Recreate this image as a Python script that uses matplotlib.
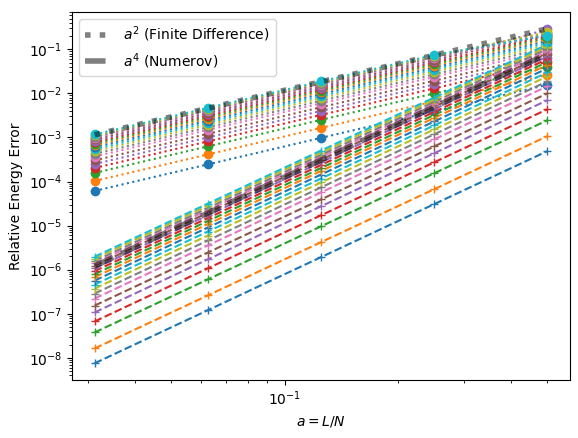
import matplotlib
matplotlib.use("Agg")
import matplotlib.pyplot as plt

# lattice spacing a = L/N
a = [1 / 32, 1 / 16, 1 / 8, 1 / 4, 1 / 2]

# relative energy error, finite difference (one list per level)
fd_err = [
    [6.12e-5, 2.45e-4, 9.8e-4, 3.92e-3, 1.57e-2],
    [1.03e-4, 4.12e-4, 1.65e-3, 6.6e-3, 2.64e-2],
    [1.57e-4, 6.28e-4, 2.51e-3, 1.0e-2, 4.02e-2],
    [2.03e-4, 8.12e-4, 3.25e-3, 1.3e-2, 5.2e-2],
    [2.50e-4, 1.0e-3, 4.0e-3, 1.6e-2, 6.4e-2],
    [3.03e-4, 1.21e-3, 4.85e-3, 1.94e-2, 7.76e-2],
    [3.69e-4, 1.48e-3, 5.9e-3, 2.36e-2, 9.45e-2],
    [4.24e-4, 1.7e-3, 6.78e-3, 2.71e-2, 0.109],
    [4.86e-4, 1.94e-3, 7.78e-3, 3.11e-2, 0.124],
    [5.43e-4, 2.17e-3, 8.69e-3, 3.48e-2, 0.139],
    [6.06e-4, 2.42e-3, 9.7e-3, 3.88e-2, 0.155],
    [6.70e-4, 2.68e-3, 1.07e-2, 4.29e-2, 0.172],
    [7.24e-4, 2.9e-3, 1.16e-2, 4.63e-2, 0.185],
    [7.87e-4, 3.15e-3, 1.26e-2, 5.04e-2, 0.201],
    [8.51e-4, 3.4e-3, 1.36e-2, 5.45e-2, 0.285],
    [9.16e-4, 3.66e-3, 1.47e-2, 5.86e-2, 0.215],
    [9.80e-4, 3.92e-3, 1.57e-2, 6.27e-2, 0.225],
    [1.04e-3, 4.16e-3, 1.66e-2, 6.66e-2, 0.232],
    [1.11e-3, 4.44e-3, 1.78e-2, 7.1e-2, 0.245],
    [1.17e-3, 4.68e-3, 1.87e-2, 7.49e-2, 0.205],
]

# relative energy error, Numerov
numerov_err = [
    [7.5e-9, 1.2e-7, 1.92e-6, 3.07e-5, 4.9e-4],
    [1.63e-8, 2.6e-7, 4.2e-6, 6.7e-5, 1.07e-3],
    [3.76e-8, 6.0e-7, 9.6e-6, 1.54e-4, 2.46e-3],
    [6.67e-8, 1.07e-6, 1.71e-5, 2.73e-4, 4.37e-3],
    [1.07e-7, 1.71e-6, 2.74e-5, 4.38e-4, 7.0e-3],
    [1.53e-7, 2.45e-6, 3.92e-5, 6.27e-4, 1.0e-2],
    [2.21e-7, 3.54e-6, 5.66e-5, 9.05e-4, 1.45e-2],
    [2.87e-7, 4.59e-6, 7.35e-5, 1.18e-3, 1.88e-2],
    [3.72e-7, 5.95e-6, 9.52e-5, 1.52e-3, 2.44e-2],
    [4.58e-7, 7.33e-6, 1.17e-4, 1.88e-3, 3.0e-2],
    [5.64e-7, 9.02e-6, 1.44e-4, 2.31e-3, 3.7e-2],
    [6.76e-7, 1.08e-5, 1.73e-4, 2.77e-3, 4.43e-2],
    [7.91e-7, 1.27e-5, 2.02e-4, 3.24e-3, 5.18e-2],
    [9.25e-7, 1.48e-5, 2.37e-4, 3.79e-3, 6.06e-2],
    [1.07e-6, 1.71e-5, 2.74e-4, 4.38e-3, 7.0e-2],
    [1.22e-6, 1.95e-5, 3.12e-4, 5.0e-3, 8.0e-2],
    [1.40e-6, 2.24e-5, 3.58e-4, 5.73e-3, 9.17e-2],
    [1.57e-6, 2.51e-5, 4.02e-4, 6.43e-3, 0.103],
    [1.77e-6, 2.83e-5, 4.53e-4, 7.25e-3, 0.116],
    [1.97e-6, 3.15e-5, 5.04e-4, 8.07e-3, 0.129],
]

# guide lines
guide_a2 = [1.15e-3, 4.6e-3, 1.84e-2, 7.36e-2, 0.294]
guide_a4 = [1.2e-6, 1.92e-5, 3.07e-4, 4.92e-3, 7.86e-2]

fig = plt.figure(figsize=(5.78, 4.38), dpi=100)
ax = fig.add_axes([72 / 578, 58 / 438, 498 / 578, 368 / 438])

for i, (fd, nm) in enumerate(zip(fd_err, numerov_err)):
    c = f"C{i % 10}"
    ax.plot(a, fd, "o:", color=c)
    ax.plot(a, nm, "+--", color=c)

ax.plot(a, guide_a2, ":", color="k", alpha=0.5, lw=4,
        label="$a^2$ (Finite Difference)")
ax.plot(a, guide_a4, "--", color="k", alpha=0.5, lw=4,
        label="$a^4$ (Numerov)")

ax.set_xscale("log")
ax.set_yscale("log")
ax.set_xlabel("$a = L/N$")
ax.set_ylabel("Relative Energy Error")
ax.legend(loc="upper left")

fig.savefig("out.png", dpi=100)
